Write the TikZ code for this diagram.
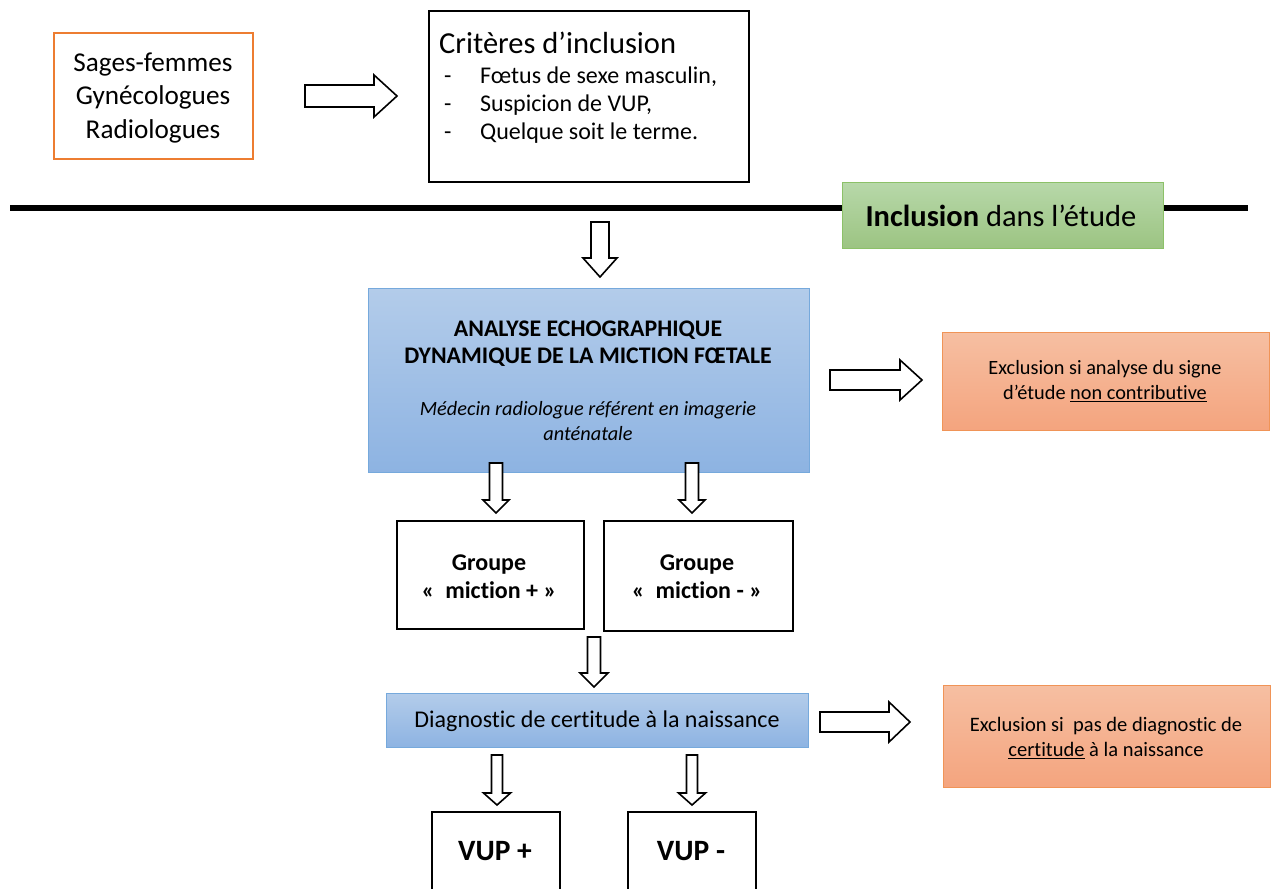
\documentclass[tikz,border=0pt]{standalone}
\usepackage{fontspec}
\setmainfont{Carlito}[Ligatures=NoCommon]
\definecolor{orangeB}{HTML}{ED7D31}
\definecolor{greenT}{HTML}{B7D8A9}
\definecolor{greenB}{HTML}{9CC482}
\definecolor{greenD}{HTML}{8CC168}
\definecolor{blueT}{HTML}{B3CCEA}
\definecolor{blueB}{HTML}{8DB3E2}
\definecolor{blueD}{HTML}{76A9DC}
\definecolor{salT}{HTML}{F6BFA2}
\definecolor{salB}{HTML}{F4A47E}
\definecolor{salD}{HTML}{F09457}
\newcommand{\fs}[2]{\fontsize{#1}{#2}\selectfont}
\newcommand{\blkright}[6]{% x start, x tip, y centre, shaft half, head half, head length
  \draw[blockarrow] (#1,#3-#4) -- (#2-#6,#3-#4) -- (#2-#6,#3-#5) -- (#2,#3)
    -- (#2-#6,#3+#5) -- (#2-#6,#3+#4) -- (#1,#3+#4) -- cycle;}
\newcommand{\blkdown}[6]{% x centre, y top, y tip, shaft half, head half, head length
  \draw[blockarrow] (#1-#4,#2) -- (#1-#4,#3-#6) -- (#1-#5,#3-#6) -- (#1,#3)
    -- (#1+#5,#3-#6) -- (#1+#4,#3-#6) -- (#1+#4,#2) -- cycle;}
\newcommand{\itm}[1]{\makebox[36pt][l]{-}#1}
\tikzset{
  blockarrow/.style={draw=black, line width=1.6pt, fill=white, line join=miter},
  plainbox/.style={draw=black, line width=2pt, fill=white, inner sep=0pt, anchor=north west},
  txt/.style={inner sep=0pt, align=center, text=black},
}
\begin{document}
\begin{tikzpicture}[x=1pt,y=-1pt]
\useasboundingbox (0,0) rectangle (1275,889);
\clip (0,0) rectangle (1275,889);
% top boxes
\node[plainbox, draw=orangeB, line width=1.6pt, minimum width=199pt, minimum height=126pt] (sages) at (53,32) {};
\node[txt, font=\fs{27.2}{33.5}] (sagestxt) at (153,98) {Sages-femmes\\Gynécologues\\Radiologues};
\blkright{305}{397}{96}{11}{21}{23}
\node[plainbox, minimum width=320pt, minimum height=171pt] (crit) at (428,10) {};
\node[txt, anchor=west, font=\fs{30.5}{34}] (crittitle) at (439,43) {Critères d’inclusion};
\node[txt, anchor=base west, font=\fs{24}{28}] (i1) at (444,83) {\itm{Fœtus de sexe masculin,}};
\node[txt, anchor=base west, font=\fs{24}{28}] (i2) at (444,111) {\itm{Suspicion de VUP,}};
\node[txt, anchor=base west, font=\fs{24}{28}] (i3) at (444,139) {\itm{Quelque soit le terme.}};
% separator line
\coordinate (lineL) at (10,208);
\coordinate (lineR) at (1248,208);
\draw[line width=6.5pt] (lineL) -- (lineR);
\node[anchor=north west, minimum width=321pt, minimum height=66pt, inner sep=0pt,
  top color=greenT, bottom color=greenB, draw=greenD, line width=1pt] (incl) at (842,182) {};
\node[txt, font=\fs{30.5}{34}] (incltxt) at (1001,216) {\textbf{Inclusion} dans l’étude};
\blkdown{600}{222}{277}{9}{17}{19}
% blue analysis box
\node[anchor=north west, minimum width=441pt, minimum height=184pt, inner sep=0pt,
  top color=blueT, bottom color=blueB, draw=blueD, line width=1pt] (analyse) at (368,288) {};
\node[txt, font=\fs{23.8}{27}\bfseries] (antitle) at (588,344) {ANALYSE ECHOGRAPHIQUE\\DYNAMIQUE DE LA MICTION FŒTALE};
\node[txt, font=\fs{20.3}{25}\itshape] (ansub) at (588,421) {Médecin radiologue référent en imagerie\\anténatale};
\blkright{830}{922}{380}{10}{20}{22}
\node[anchor=north west, minimum width=327pt, minimum height=98pt, inner sep=0pt,
  top color=salT, bottom color=salB, draw=salD, line width=1pt] (excl1) at (942,332) {};
\node[txt, font=\fs{20.3}{25}] (excl1txt) at (1105,381) {Exclusion si analyse du signe\\d’étude \underline{non contributive}};
\blkdown{496}{463}{513}{6.5}{13}{13}
\blkdown{692}{463}{513}{6.5}{13}{13}
% groups
\node[plainbox, minimum width=187pt, minimum height=108pt] (gplus) at (396,520) {};
\node[txt, font=\fs{24}{28}\bfseries] (gplustxt) at (489,577) {Groupe\\«\ \ miction + »};
\node[plainbox, minimum width=189pt, minimum height=110pt] (gminus) at (603,520) {};
\node[txt, font=\fs{24}{28}\bfseries] (gminustxt) at (697,577) {Groupe\\«\ \ miction - »};
\blkdown{594}{637}{687}{6.5}{14}{14}
% diagnostic
\node[anchor=north west, minimum width=422pt, minimum height=54pt, inner sep=0pt,
  top color=blueT, bottom color=blueB, draw=blueD, line width=1pt] (diag) at (386,693) {};
\node[txt, font=\fs{24}{28}] (diagtxt) at (597,721) {Diagnostic de certitude à la naissance};
\blkright{820}{910}{722}{10}{20}{21}
\node[anchor=north west, minimum width=327pt, minimum height=102pt, inner sep=0pt,
  top color=salT, bottom color=salB, draw=salD, line width=1pt] (excl2) at (943,685) {};
\node[txt, font=\fs{20.5}{25}] (excl2txt) at (1106,738) {Exclusion si\ \ pas de diagnostic de\\\underline{certitude} à la naissance};
\blkdown{497}{755}{805}{5.5}{13.5}{12}
\blkdown{692}{755}{805}{5.5}{13.5}{12}
% VUP boxes
\node[plainbox, minimum width=128pt, minimum height=100pt] (vplus) at (431,811) {};
\node[txt, font=\fs{29.5}{33}\bfseries] (vplustxt) at (495,851) {VUP +};
\node[plainbox, minimum width=128pt, minimum height=100pt] (vminus) at (627,811) {};
\node[txt, font=\fs{29.5}{33}\bfseries] (vminustxt) at (691,851) {VUP -};
\end{tikzpicture}
\end{document}
